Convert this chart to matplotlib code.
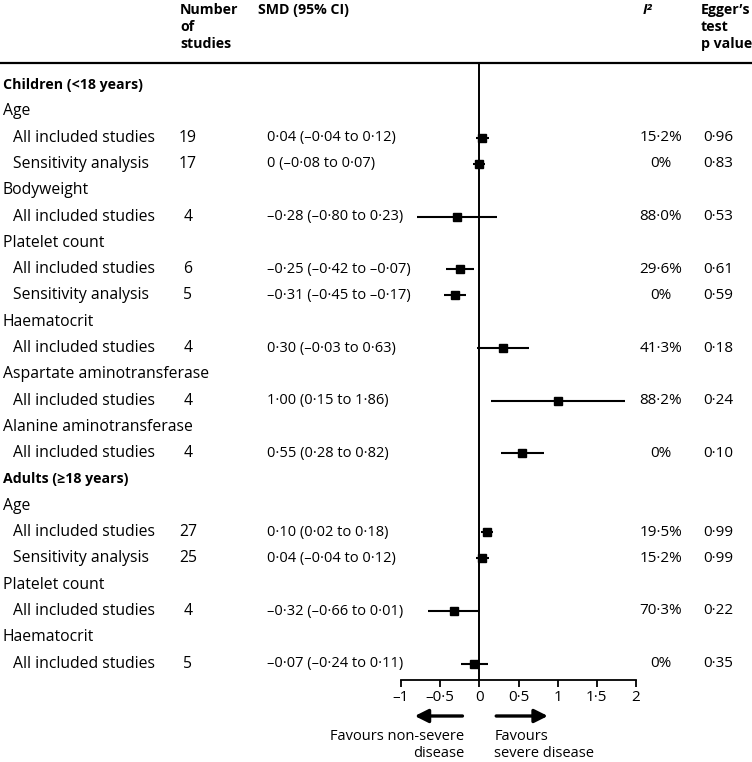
import matplotlib.pyplot as plt
import matplotlib.transforms as mtransforms
from matplotlib.lines import Line2D

plt.rcParams['font.family'] = ['Open Sans', 'DejaVu Sans']
plt.rcParams['font.size'] = 10.5

# rows of the table (level 0 = group, 1 = variable, 2 = study row)
labels = ['Children (<18 years)', 'Age', 'All included studies', 'Sensitivity analysis',
          'Bodyweight', 'All included studies', 'Platelet count', 'All included studies',
          'Sensitivity analysis', 'Haematocrit', 'All included studies',
          'Aspartate aminotransferase', 'All included studies', 'Alanine aminotransferase',
          'All included studies', 'Adults (≥18 years)', 'Age', 'All included studies',
          'Sensitivity analysis', 'Platelet count', 'All included studies', 'Haematocrit',
          'All included studies']
levels = [0, 1, 2, 2, 1, 2, 1, 2, 2, 1, 2, 1, 2, 1, 2, 0, 1, 2, 2, 1, 2, 1, 2]

# study rows
n_studies = [19, 17, 4, 6, 5, 4, 4, 4, 27, 25, 4, 5]
smd = [0.04, 0, -0.28, -0.25, -0.31, 0.30, 1.00, 0.55, 0.10, 0.04, -0.32, -0.07]
ci_low = [-0.04, -0.08, -0.80, -0.42, -0.45, -0.03, 0.15, 0.28, 0.02, -0.04, -0.66, -0.24]
ci_high = [0.12, 0.07, 0.23, -0.07, -0.17, 0.63, 1.86, 0.82, 0.18, 0.12, 0.01, 0.11]
smd_text = ['0·04 (–0·04 to 0·12)', '0 (–0·08 to 0·07)', '–0·28 (–0·80 to 0·23)',
            '–0·25 (–0·42 to –0·07)', '–0·31 (–0·45 to –0·17)', '0·30 (–0·03 to 0·63)',
            '1·00 (0·15 to 1·86)', '0·55 (0·28 to 0·82)', '0·10 (0·02 to 0·18)',
            '0·04 (–0·04 to 0·12)', '–0·32 (–0·66 to 0·01)', '–0·07 (–0·24 to 0·11)']
i2_text = ['15·2%', '0%', '88·0%', '29·6%', '0%', '41·3%', '88·2%', '0%',
           '19·5%', '15·2%', '70·3%', '0%']
egger_text = ['0·96', '0·83', '0·53', '0·61', '0·59', '0·18', '0·24', '0·10',
              '0·99', '0·99', '0·22', '0·35']

xticks = [-1, -0.5, 0, 0.5, 1, 1.5, 2]
xtick_labels = ['–1', '–0·5', '0', '0·5', '1', '1·5', '2']

W, H = 752, 762
fig = plt.figure(figsize=(W / 100, H / 100), dpi=100)

# forest axes: x -1..2 between px 401 and 636, y from rule (63px) to axis (680px)
ax_left, ax_right, ax_top, ax_bot = 401, 636, 63, 680
ax = fig.add_axes([ax_left / W, 1 - ax_bot / H, (ax_right - ax_left) / W, (ax_bot - ax_top) / H])
row0, step = 85, 26.3
ax.set_ylim((ax_bot - row0) / step, (ax_top - row0) / step)
ax.set_xlim(-1, 2)
ax.patch.set_visible(False)
for s in ['top', 'right', 'left']:
    ax.spines[s].set_visible(False)
ax.spines['bottom'].set_linewidth(1.3)
ax.set_yticks([])
ax.set_xticks(xticks)
ax.set_xticklabels(xtick_labels, fontsize=11)
ax.tick_params(axis='x', direction='out', length=5, width=1.3, pad=2)
ax.axvline(0, color='black', lw=1.4)

trans = mtransforms.blended_transform_factory(fig.transFigure, ax.transData)

k = 0
for i, (lab, lev) in enumerate(zip(labels, levels)):
    if lev == 0:
        fig.text(3 / W, i, lab, transform=trans, fontweight='bold', fontsize=10.2, va='center')
    elif lev == 1:
        fig.text(3 / W, i, lab, transform=trans, fontsize=11.3, va='center')
    else:
        fig.text(13 / W, i, lab, transform=trans, fontsize=11.3, va='center')
        fig.text(188 / W, i, str(n_studies[k]), transform=trans, fontsize=11.3,
                 va='center', ha='center')
        fig.text(267 / W, i, smd_text[k], transform=trans, va='center')
        fig.text(661 / W, i, i2_text[k], transform=trans, fontsize=11, va='center',
                 ha='center')
        fig.text(703 / W, i, egger_text[k], transform=trans, fontsize=11, va='center')
        ax.plot([ci_low[k], ci_high[k]], [i, i], color='black', lw=1.5, solid_capstyle='butt')
        ax.plot(smd[k], i, marker='s', color='black', markersize=5.5)
        k += 1

# header
hy = 1 - 27 / H
fig.text(180 / W, hy, 'Number\nof\nstudies', fontweight='bold', fontsize=10.2, va='center',
         linespacing=1.3)
fig.text(258 / W, 1 - 10 / H, 'SMD (95% CI)', fontweight='bold', fontsize=10.2, va='center')
fig.text(643 / W, 1 - 10 / H, 'I²', fontweight='bold', fontstyle='italic', fontsize=10.2,
         va='center')
fig.text(701 / W, hy, 'Egger’s\ntest\np value', fontweight='bold', fontsize=10.2,
         va='center', linespacing=1.3)
fig.add_artist(Line2D([0, 1], [1 - 63 / H, 1 - 63 / H], transform=fig.transFigure,
                      color='black', lw=1.6))

# direction arrows
ya = (ax_bot - 716) / (ax_bot - ax_top)
xt = ax.get_xaxis_transform()
ax.annotate('', xy=(-0.86, ya), xytext=(-0.18, ya), xycoords=xt, textcoords=xt,
            arrowprops=dict(arrowstyle='-|>', color='black', lw=2.4, mutation_scale=20))
ax.annotate('', xy=(0.91, ya), xytext=(0.18, ya), xycoords=xt, textcoords=xt,
            arrowprops=dict(arrowstyle='-|>', color='black', lw=2.4, mutation_scale=20))
yt = (ax_bot - 745) / (ax_bot - ax_top)
ax.text(-0.19, yt, 'Favours non-severe\ndisease', transform=xt, ha='right', va='center',
        linespacing=1.2)
ax.text(0.19, yt, 'Favours\nsevere disease', transform=xt, ha='left', va='center',
        linespacing=1.2)

fig.savefig('out.png', dpi=100)
